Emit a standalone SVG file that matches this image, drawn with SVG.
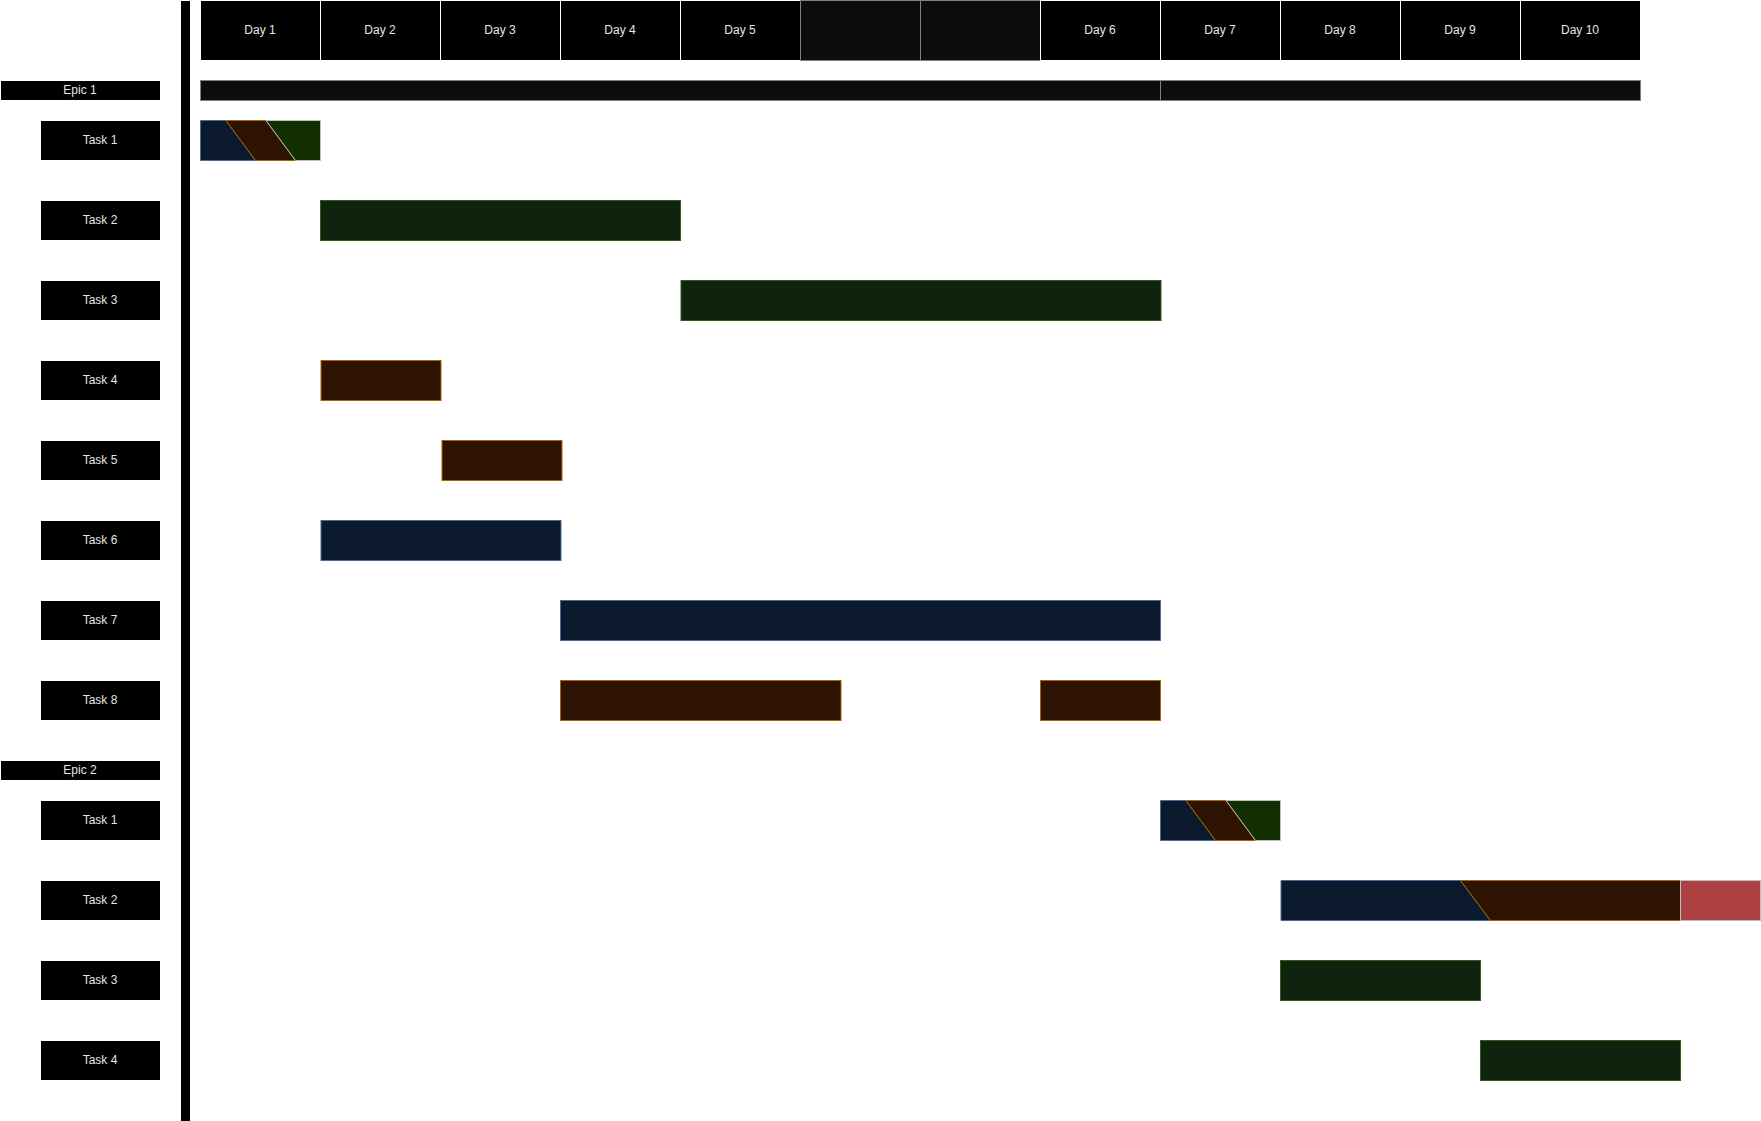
<svg xmlns="http://www.w3.org/2000/svg" width="1761" height="1121" viewBox="0 0 1761 1121">
<style>
text{font-family:"Liberation Sans",Arial,sans-serif;font-size:12px;fill:#e6e6e6;text-anchor:middle}
.day{fill:#000;stroke:#fff;stroke-width:1}
.off{fill:#0c0c0c;stroke:#808080;stroke-width:1}
.lbl{fill:#000;stroke:#fff;stroke-width:1}
.epic{fill:#0c0c0c;stroke:#808080;stroke-width:1}
.blue{fill:#0c1a2e;stroke:#4a6b9c;stroke-width:1}
.brown{fill:#2d1300;stroke:#a86600;stroke-width:1}
.gseg{fill:#132f01;stroke:#bfbfbf;stroke-width:1}
.green{fill:#10230f;stroke:#2f6117;stroke-width:1}
.red{fill:#ad4141;stroke:#bdbdbd;stroke-width:1}
</style>
<rect width="1761" height="1121" fill="#fff"/>
<rect id="divider" x="181" y="1" width="9" height="1120" fill="#000"/>
<g id="header">
<g id="day1"><rect class="day" x="200.5" y="0.5" width="120" height="60"/><text x="260" y="33.5">Day 1</text></g>
<g id="day2"><rect class="day" x="320.5" y="0.5" width="120" height="60"/><text x="380" y="33.5">Day 2</text></g>
<g id="day3"><rect class="day" x="440.5" y="0.5" width="120" height="60"/><text x="500" y="33.5">Day 3</text></g>
<g id="day4"><rect class="day" x="560.5" y="0.5" width="120" height="60"/><text x="620" y="33.5">Day 4</text></g>
<g id="day5"><rect class="day" x="680.5" y="0.5" width="120" height="60"/><text x="740" y="33.5">Day 5</text></g>
<g id="off1"><rect class="off" x="800.5" y="0.5" width="120" height="60"/></g>
<g id="off2"><rect class="off" x="920.5" y="0.5" width="120" height="60"/></g>
<g id="day6"><rect class="day" x="1040.5" y="0.5" width="120" height="60"/><text x="1100" y="33.5">Day 6</text></g>
<g id="day7"><rect class="day" x="1160.5" y="0.5" width="120" height="60"/><text x="1220" y="33.5">Day 7</text></g>
<g id="day8"><rect class="day" x="1280.5" y="0.5" width="120" height="60"/><text x="1340" y="33.5">Day 8</text></g>
<g id="day9"><rect class="day" x="1400.5" y="0.5" width="120" height="60"/><text x="1460" y="33.5">Day 9</text></g>
<g id="day10"><rect class="day" x="1520.5" y="0.5" width="120" height="60"/><text x="1580" y="33.5">Day 10</text></g>
</g>
<g id="labels">
<g id="epic1-label"><rect class="lbl" x="0.5" y="80.5" width="160" height="20"/><text x="80" y="93.5">Epic 1</text></g>
<g id="e1t1-label"><rect class="lbl" x="40.5" y="120.5" width="120" height="40"/><text x="100" y="143.5">Task 1</text></g>
<g id="e1t2-label"><rect class="lbl" x="40.5" y="200.5" width="120" height="40"/><text x="100" y="223.5">Task 2</text></g>
<g id="e1t3-label"><rect class="lbl" x="40.5" y="280.5" width="120" height="40"/><text x="100" y="303.5">Task 3</text></g>
<g id="e1t4-label"><rect class="lbl" x="40.5" y="360.5" width="120" height="40"/><text x="100" y="383.5">Task 4</text></g>
<g id="e1t5-label"><rect class="lbl" x="40.5" y="440.5" width="120" height="40"/><text x="100" y="463.5">Task 5</text></g>
<g id="e1t6-label"><rect class="lbl" x="40.5" y="520.5" width="120" height="40"/><text x="100" y="543.5">Task 6</text></g>
<g id="e1t7-label"><rect class="lbl" x="40.5" y="600.5" width="120" height="40"/><text x="100" y="623.5">Task 7</text></g>
<g id="e1t8-label"><rect class="lbl" x="40.5" y="680.5" width="120" height="40"/><text x="100" y="703.5">Task 8</text></g>
<g id="epic2-label"><rect class="lbl" x="0.5" y="760.5" width="160" height="20"/><text x="80" y="773.5">Epic 2</text></g>
<g id="e2t1-label"><rect class="lbl" x="40.5" y="800.5" width="120" height="40"/><text x="100" y="823.5">Task 1</text></g>
<g id="e2t2-label"><rect class="lbl" x="40.5" y="880.5" width="120" height="40"/><text x="100" y="903.5">Task 2</text></g>
<g id="e2t3-label"><rect class="lbl" x="40.5" y="960.5" width="120" height="40"/><text x="100" y="983.5">Task 3</text></g>
<g id="e2t4-label"><rect class="lbl" x="40.5" y="1040.5" width="120" height="40"/><text x="100" y="1063.5">Task 4</text></g>
</g>
<g id="epic1-bar">
<rect class="epic" x="200.5" y="80.5" width="960" height="20"/>
<rect class="epic" x="1160.5" y="80.5" width="480" height="20"/>
</g>
<g id="e1t1-bar">
<polygon class="blue" points="200.5,120.5 226,120.5 255.5,160.5 200.5,160.5"/>
<polygon class="brown" points="226,120.5 266,120.5 295.5,160.5 255.5,160.5"/>
<polygon class="gseg" points="266,120.5 320.5,120.5 320.5,160.5 295.5,160.5"/>
</g>
<g id="e1t2-bar"><rect class="green" x="320.5" y="200.5" width="360" height="40"/></g>
<g id="e1t3-bar"><rect class="green" x="681" y="280.5" width="480" height="40"/></g>
<g id="e1t4-bar"><rect class="brown" x="321" y="360.5" width="120" height="40"/></g>
<g id="e1t5-bar"><rect class="brown" x="442" y="440.5" width="120" height="40"/></g>
<g id="e1t6-bar"><rect class="blue" x="321" y="520.5" width="240" height="40"/></g>
<g id="e1t7-bar"><rect class="blue" x="560.5" y="600.5" width="600" height="40"/></g>
<g id="e1t8-bar">
<rect class="brown" x="560.5" y="680.5" width="280.5" height="40"/>
<rect class="brown" x="1040.5" y="680.5" width="120" height="40"/>
</g>
<g id="e2t1-bar">
<polygon class="blue" points="1160.5,800.5 1186,800.5 1215.5,840.5 1160.5,840.5"/>
<polygon class="brown" points="1186,800.5 1226,800.5 1255.5,840.5 1215.5,840.5"/>
<polygon class="gseg" points="1226,800.5 1280.5,800.5 1280.5,840.5 1255.5,840.5"/>
</g>
<g id="e2t2-bar">
<polygon class="blue" points="1281,880.5 1460.5,880.5 1490.5,920.5 1281,920.5"/>
<polygon class="brown" points="1460.5,880.5 1680.5,880.5 1680.5,920.5 1490.5,920.5"/>
<rect class="red" x="1680.5" y="880.5" width="80" height="40"/>
</g>
<g id="e2t3-bar"><rect class="green" x="1280.5" y="960.5" width="200" height="40"/></g>
<g id="e2t4-bar"><rect class="green" x="1480.5" y="1040.5" width="200" height="40"/></g>
<g id="connectors"></g>
</svg>
